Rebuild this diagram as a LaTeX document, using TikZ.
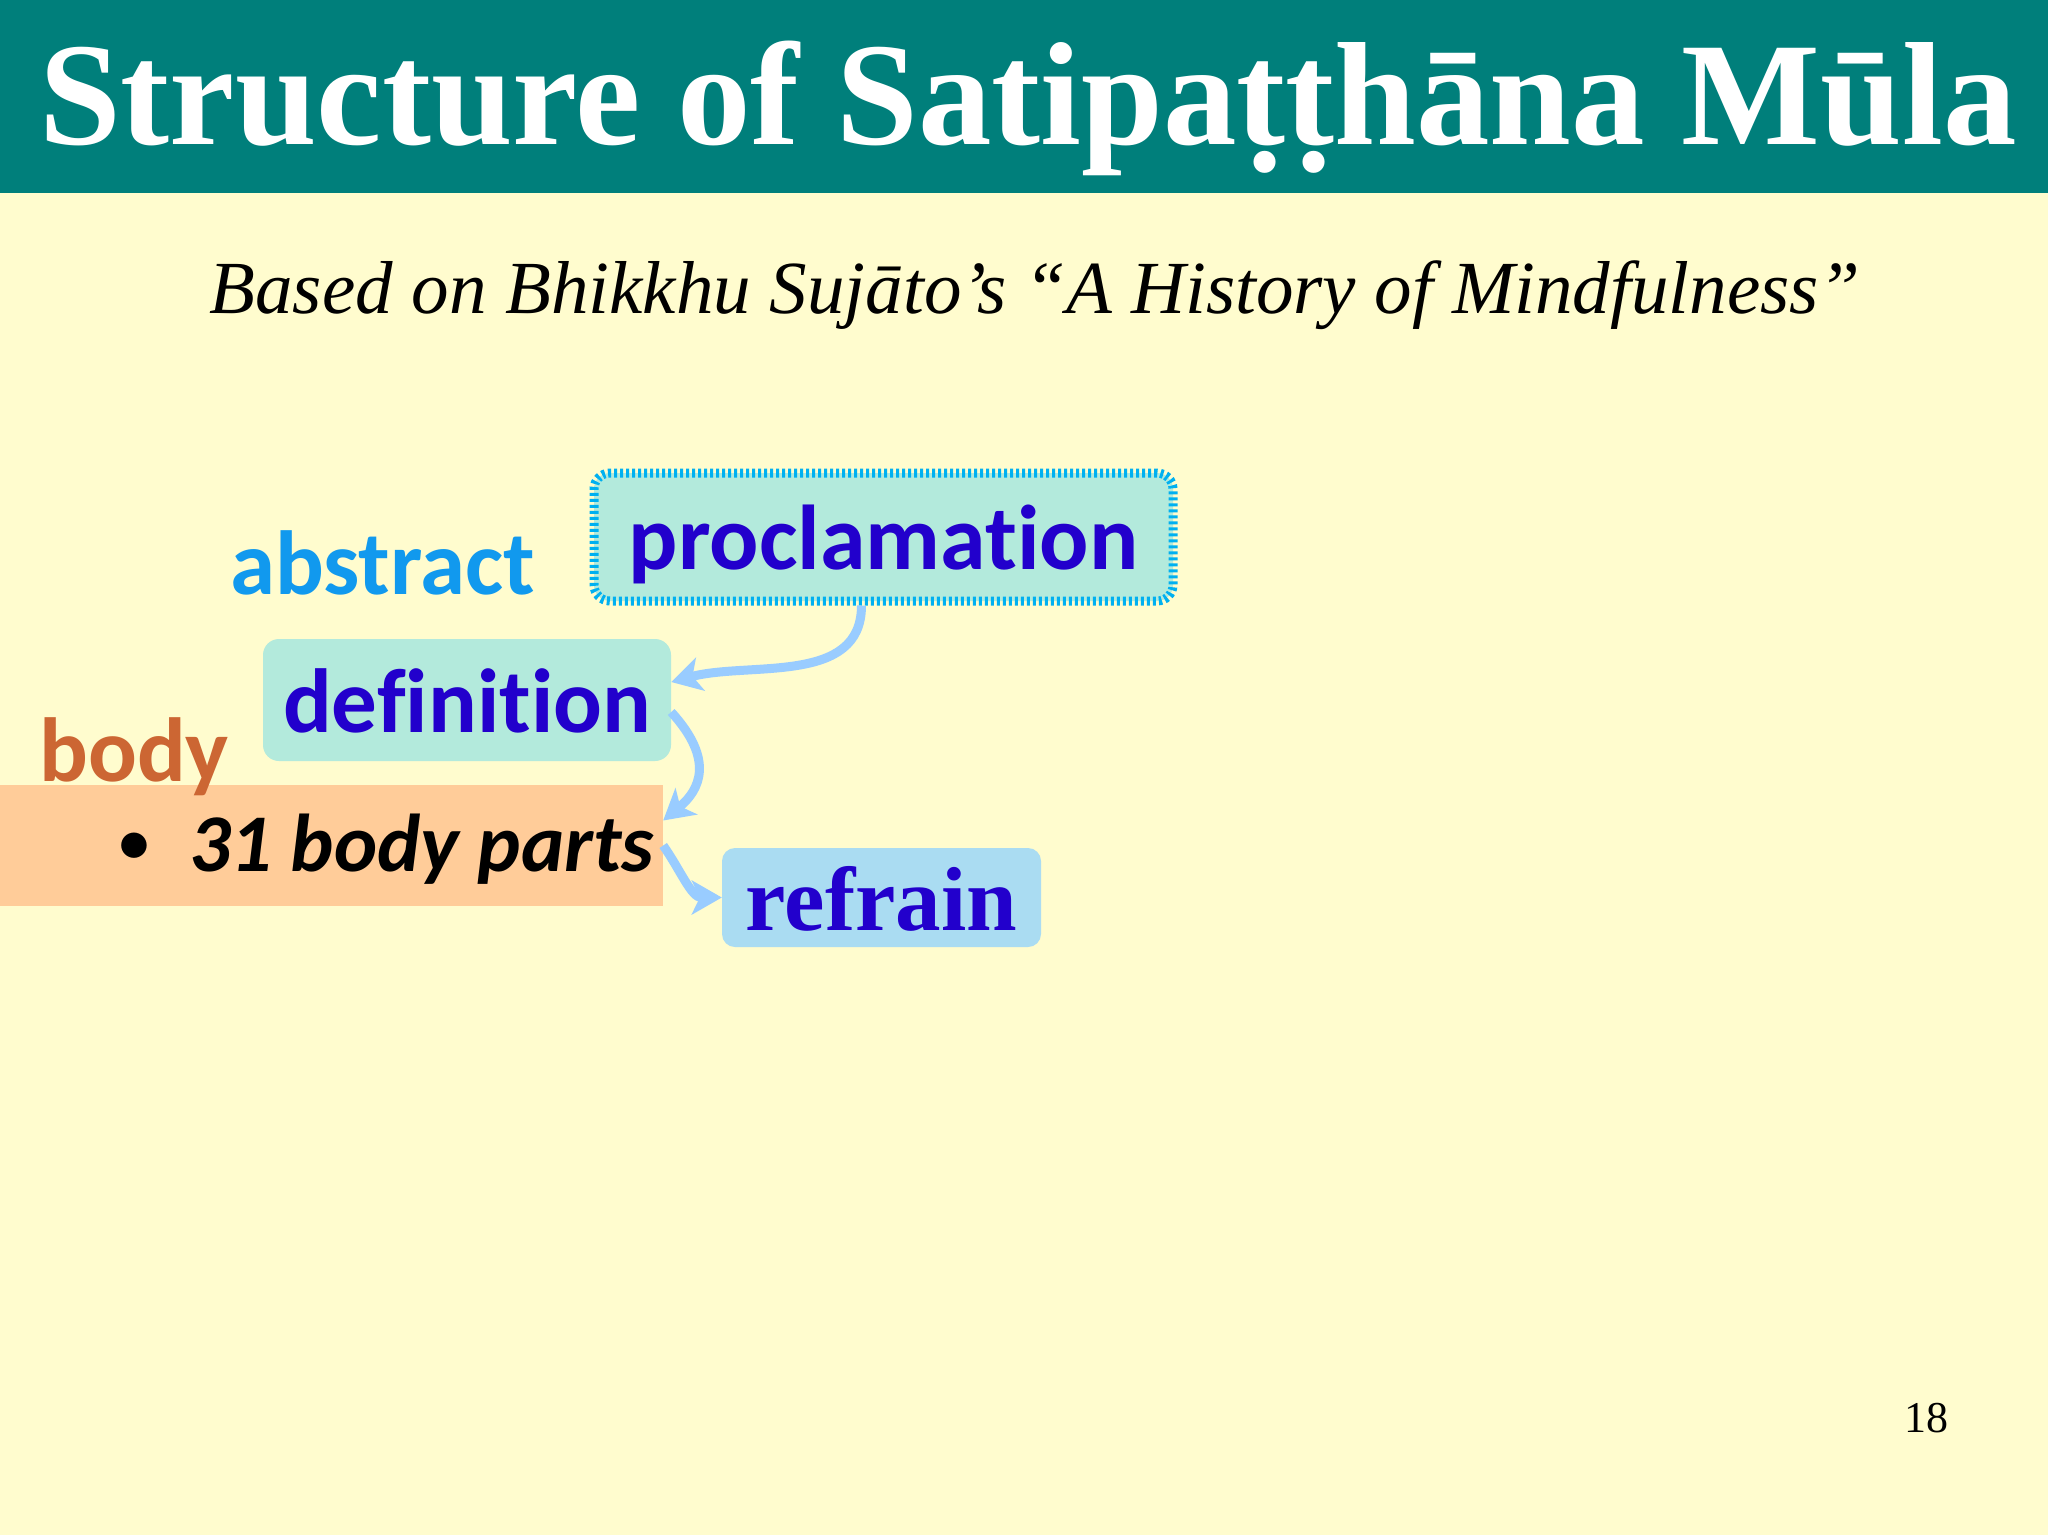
\documentclass[tikz,border=0pt]{standalone}
\usepackage{fontspec}
\setmainfont{Liberation Serif}
\newfontfamily\calib[Ligatures={NoCommon,NoContextual}]{Carlito}
\usetikzlibrary{arrows.meta,positioning}
\definecolor{slidebg}{HTML}{FFFCCE}
\definecolor{titleteal}{HTML}{007F7B}
\definecolor{inkblue}{HTML}{2200CC}
\definecolor{aquafill}{HTML}{B3EADC}
\definecolor{cyanline}{HTML}{00B0F0}
\definecolor{skyfill}{HTML}{AADCF2}
\definecolor{peachfill}{HTML}{FFCC99}
\definecolor{bodybrown}{HTML}{CC6633}
\definecolor{abstractblue}{HTML}{1199EE}
\definecolor{arrowblue}{HTML}{99CCFF}

\begin{document}
\begin{tikzpicture}[
    x=1pt, y=-1pt,
    tagbox/.style={rectangle, rounded corners=16pt, inner sep=0pt, text height=65pt, text depth=0pt, text=inkblue},
    lbl/.style={inner sep=0pt, anchor=base west, font=\fontsize{91}{100}\calib\bfseries},
    conn/.style={-{Stealth[length=30pt,width=34pt,inset=8pt]}, line width=9pt, draw=arrowblue}
]

% Slide background and title bar
\useasboundingbox (0,0) rectangle (2048,1535);
\fill[slidebg] (0,0) rectangle (2048,1535);
\fill[titleteal] (0,0) rectangle (2048,193);
\node[inner sep=0pt, anchor=base west, text=white, font=\fontsize{147}{155}\selectfont\bfseries] (title) at (39,144) {Structure of Satipaṭṭhāna Mūla};
\node[inner sep=0pt, anchor=base, font=\fontsize{75}{85}\selectfont\itshape] (subtitle) at (1035,313) {Based on Bhikkhu Sujāto’s “A History of Mindfulness”};

% Boxes
\node[tagbox, fill=aquafill, draw=cyanline, line width=9pt, dash pattern=on 3pt off 3pt, minimum width=579pt, minimum height=128pt, font=\fontsize{92}{100}\calib\bfseries] (procl) at (883.5,537) {proclamation};
\node[tagbox, fill=aquafill, minimum width=408pt, minimum height=122pt, font=\fontsize{91}{100}\calib\bfseries] (defn) at (467,700) {definition};
\node[rectangle, fill=peachfill, inner sep=0pt, minimum width=663pt, minimum height=121pt] (partsbox) at (331.5,845.5) {};
\node[tagbox, fill=skyfill, rounded corners=13pt, minimum width=319pt, minimum height=99pt, font=\fontsize{91}{100}\bfseries] (refrain) at (881.5,897.5) {refrain};

% Labels
\node[lbl, text=abstractblue] (abstract) at (230,594) {abstract};
\node[lbl, text=bodybrown] (bodylbl) at (39,781) {body};
\node[lbl, anchor=base, font=\fontsize{60}{70}\calib\bfseries] (bullet) at (134,862) {•};
\node[lbl, font=\fontsize{82}{90}\calib\bfseries\itshape] (parts) at (189,871) {31 body parts};

% Connectors
\draw[conn] ([xshift=-22pt]procl.south) to[out=-90, in=15] ([yshift=18pt]defn.east);
\draw[conn] ([yshift=-12pt]defn.east) .. controls (715,760) and (700,790) .. ([yshift=25pt]partsbox.east);
\draw[conn] (partsbox.east) to[out=-55, in=180] (refrain.west);

% Page number
\node[inner sep=0pt, anchor=base, font=\fontsize{44}{50}\selectfont] (pagenum) at (1926,1432) {18};

\end{tikzpicture}
\end{document}
